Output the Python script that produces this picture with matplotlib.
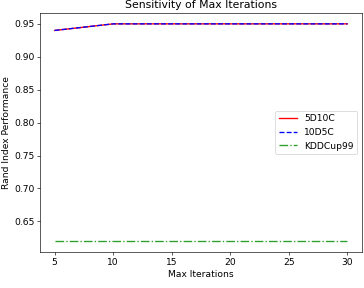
import matplotlib
matplotlib.use("Agg")
import matplotlib.pyplot as plt

max_iters = [5, 10, 15, 20, 25, 30]
ri_5d10c = [0.94, 0.95, 0.95, 0.95, 0.95, 0.95]
ri_10d5c = [0.94, 0.95, 0.95, 0.95, 0.95, 0.95]
ri_kdd = [0.62, 0.62, 0.62, 0.62, 0.62, 0.62]

plt.rcParams['font.size'] = 11.5

dpi = 364 / 6.4
fig = plt.figure(figsize=(6.4, 288 / dpi), dpi=dpi)
ax = fig.add_axes([40 / 364, 1 - 252 / 288, 322 / 364, 239 / 288])

ax.plot(max_iters, ri_5d10c, color='red', linestyle='-', linewidth=1.7, label='5D10C')
ax.plot(max_iters, ri_10d5c, color='blue', linestyle='--', linewidth=1.7, label='10D5C')
ax.plot(max_iters, ri_kdd, color='tab:green', linestyle='-.', linewidth=1.7, label='KDDCup99')

ax.set_xlabel('Max Iterations')
ax.set_ylabel('Rand Index Performance')
ax.set_title('Sensitivity of Max Iterations')
ax.legend(loc='center right')

fig.savefig('out.png', dpi=dpi)
